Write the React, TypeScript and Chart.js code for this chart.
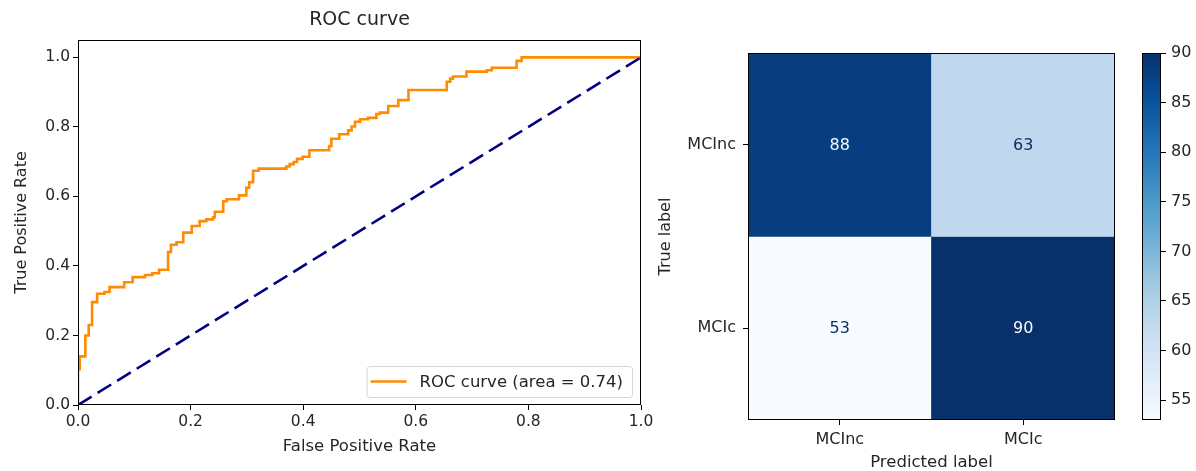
import React, { useEffect, useRef } from 'react';
import { Chart, registerables } from 'chart.js';

Chart.register(...registerables);

// ---------- ROC data (step points: at fpr[i] the curve jumps to tpr[i]) ----------
const rocFpr = [
  0, 0, 0.003, 0.013, 0.019, 0.025, 0.034, 0.047, 0.056, 0.082, 0.097, 0.119, 0.132, 0.144,
  0.160, 0.165, 0.175, 0.187, 0.202, 0.216, 0.228, 0.240, 0.243, 0.258, 0.264, 0.286, 0.299,
  0.304, 0.311, 0.321, 0.370, 0.376, 0.383, 0.389, 0.399, 0.411, 0.446, 0.450, 0.464, 0.480,
  0.486, 0.492, 0.501, 0.515, 0.530, 0.536, 0.551, 0.569, 0.587, 0.655, 0.661, 0.666, 0.690,
  0.726, 0.735, 0.779, 0.788, 1.0,
];
const rocTpr = [
  0, 0.103, 0.14, 0.20, 0.23, 0.296, 0.320, 0.325, 0.339, 0.353, 0.368, 0.374, 0.379, 0.389,
  0.440, 0.461, 0.468, 0.496, 0.515, 0.529, 0.534, 0.540, 0.556, 0.586, 0.592, 0.603, 0.625,
  0.641, 0.674, 0.680, 0.686, 0.693, 0.699, 0.708, 0.714, 0.733, 0.745, 0.766, 0.779, 0.790,
  0.801, 0.815, 0.822, 0.826, 0.837, 0.841, 0.860, 0.877, 0.906, 0.930, 0.939, 0.945, 0.959,
  0.963, 0.970, 0.990, 1.0, 1.0,
];
const chanceX = [0, 1];
const chanceY = [0, 1];
const rocTicks = [0, 0.2, 0.4, 0.6, 0.8, 1.0];
const rocTitle = 'ROC curve';
const rocLegendLabel = 'ROC curve (area = 0.74)';
const rocXLabel = 'False Positive Rate';
const rocYLabel = 'True Positive Rate';

// ---------- Confusion matrix data ----------
const predictedLabels = ['MCInc', 'MCIc'];
const trueLabels = ['MCInc', 'MCIc'];
const rowMCInc = [88, 63];
const rowMCIc = [53, 90];
const cmRows = [rowMCInc, rowMCIc];
const colorbarTicks = [55, 60, 65, 70, 75, 80, 85, 90];
const cmXLabel = 'Predicted label';
const cmYLabel = 'True label';

const allCells = cmRows.flat();
const cmMin = Math.min(...allCells);
const cmMax = Math.max(...allCells);

// ---------- styles ----------
const FONT = '"DejaVu Sans", sans-serif';
const TEXT = '#262626';
const BLUES = ['#f7fbff', '#deebf7', '#c6dbef', '#9ecae1', '#6baed6', '#4292c6', '#2171b5', '#08519c', '#08306b'];

Chart.defaults.font.family = FONT;
Chart.defaults.color = TEXT;

function hexToRgb(h: string) {
  const n = parseInt(h.slice(1), 16);
  return [(n >> 16) & 255, (n >> 8) & 255, n & 255];
}
function blues(t: number) {
  const tt = Math.max(0, Math.min(1, t)) * (BLUES.length - 1);
  const i = Math.min(BLUES.length - 2, Math.floor(tt));
  const f = tt - i;
  const a = hexToRgb(BLUES[i]);
  const b = hexToRgb(BLUES[i + 1]);
  const c = a.map((v, k) => Math.round(v + (b[k] - v) * f));
  return `rgb(${c[0]},${c[1]},${c[2]})`;
}

const framePlugin = {
  id: 'frame',
  afterDraw(chart: any) {
    const { ctx, chartArea } = chart;
    const l = Math.round(chartArea.left) + 0.5;
    const t = Math.round(chartArea.top) + 0.5;
    const r = Math.round(chartArea.right) - 0.5;
    const b = Math.round(chartArea.bottom) - 0.5;
    ctx.save();
    ctx.strokeStyle = '#000';
    ctx.lineWidth = 1;
    ctx.strokeRect(l, t, r - l, b - t);
    ctx.restore();
  },
};

// axes title centred over the plot area (like matplotlib's ax.set_title)
const axesTitlePlugin = {
  id: 'axesTitle',
  afterDraw(chart: any) {
    const { ctx, chartArea } = chart;
    ctx.save();
    ctx.font = `19px ${FONT}`;
    ctx.fillStyle = TEXT;
    ctx.textAlign = 'center';
    ctx.textBaseline = 'middle';
    ctx.fillText(rocTitle, (chartArea.left + chartArea.right) / 2, chartArea.top - 20);
    ctx.restore();
  },
};

const rocLegendPlugin = {
  id: 'rocLegend',
  afterDraw(chart: any) {
    const ds = chart.data.datasets[1];
    const { ctx, chartArea } = chart;
    ctx.save();
    ctx.font = `16.5px ${FONT}`;
    const tw = ctx.measureText(ds.label).width;
    const h = 31;
    const w = 53 + tw + 9;
    const right = chartArea.right - 9;
    const bottom = chartArea.bottom - 8;
    const left = right - w;
    const top = bottom - h;
    ctx.beginPath();
    ctx.roundRect(left + 0.5, top + 0.5, w, h, 3);
    ctx.fillStyle = 'rgba(255,255,255,0.85)';
    ctx.fill();
    ctx.strokeStyle = '#d5d5d5';
    ctx.lineWidth = 1;
    ctx.stroke();
    ctx.beginPath();
    ctx.moveTo(left + 4, top + h / 2);
    ctx.lineTo(left + 40, top + h / 2);
    ctx.strokeStyle = ds.borderColor;
    ctx.lineWidth = ds.borderWidth;
    ctx.stroke();
    ctx.fillStyle = TEXT;
    ctx.textAlign = 'left';
    ctx.textBaseline = 'middle';
    ctx.fillText(ds.label, left + 53, top + h / 2 + 1);
    ctx.restore();
  },
};

const cellTextPlugin = {
  id: 'cellText',
  afterDatasetsDraw(chart: any) {
    const { ctx } = chart;
    const mid = (cmMin + cmMax) / 2;
    ctx.save();
    ctx.font = `16px ${FONT}`;
    ctx.textAlign = 'center';
    ctx.textBaseline = 'middle';
    chart.data.datasets.forEach((_: any, di: number) => {
      const meta = chart.getDatasetMeta(di);
      meta.data.forEach((el: any, i: number) => {
        const v = cmRows[di][i];
        const p = el.getProps(['x', 'y', 'base'], true);
        ctx.fillStyle = v > mid ? BLUES[0] : BLUES[8];
        ctx.fillText(String(v), p.x, (p.y + p.base) / 2 + 1);
      });
    });
    ctx.restore();
  },
};

function rocConfig(): any {
  return {
    type: 'line',
    data: {
      datasets: [
        {
          label: '',
          data: chanceX.map((x, i) => ({ x, y: chanceY[i] })),
          borderColor: '#000080',
          borderWidth: 2.6,
          borderDash: [16, 7],
          pointRadius: 0,
          fill: false,
          order: 0,
        },
        {
          label: rocLegendLabel,
          data: rocFpr.map((x, i) => ({ x, y: rocTpr[i] })),
          borderColor: '#ff8c00',
          borderWidth: 2.6,
          stepped: 'before',
          pointRadius: 0,
          fill: false,
          order: 1,
        },
      ],
    },
    options: {
      responsive: false,
      animation: false,
      layout: { padding: { left: 0, right: 19, top: 40, bottom: 0 } },
      plugins: {
        legend: { display: false },
        tooltip: { enabled: false },
        title: { display: false },
      },
      scales: {
        x: {
          type: 'linear',
          min: 0,
          max: 1,
          afterBuildTicks: (s: any) => { s.ticks = rocTicks.map((v) => ({ value: v })); },
          ticks: { callback: (v: any) => Number(v).toFixed(1), font: { size: 15.5 }, padding: 3, maxRotation: 0 },
          grid: { drawOnChartArea: false, tickLength: 5, color: '#000' },
          border: { display: false },
          title: { display: true, text: rocXLabel, font: { size: 16.5 }, padding: { top: 0, bottom: 14 } },
          afterFit: (s: any) => { s.height = 66; },
        },
        y: {
          type: 'linear',
          min: 0,
          max: 1.05,
          afterBuildTicks: (s: any) => { s.ticks = rocTicks.map((v) => ({ value: v })); },
          ticks: { callback: (v: any) => Number(v).toFixed(1), font: { size: 15.5 }, padding: 3 },
          grid: { drawOnChartArea: false, tickLength: 5, color: '#000' },
          border: { display: false },
          title: { display: true, text: rocYLabel, font: { size: 16 }, padding: { top: 12, bottom: 0 } },
          afterFit: (s: any) => { s.width = 78; },
        },
      },
    },
    plugins: [framePlugin, axesTitlePlugin, rocLegendPlugin],
  };
}

function cmConfig(): any {
  return {
    type: 'bar',
    data: {
      labels: predictedLabels,
      datasets: trueLabels.map((lab, r) => ({
        label: lab,
        data: cmRows[r].map(() => [r, r + 1]),
        backgroundColor: cmRows[r].map((v) => blues((v - cmMin) / (cmMax - cmMin))),
        borderWidth: 0,
        barPercentage: 1,
        categoryPercentage: 1,
        grouped: false,
      })),
    },
    options: {
      responsive: false,
      animation: false,
      layout: { padding: { left: 0, right: 15, top: 53, bottom: 0 } },
      plugins: { legend: { display: false }, tooltip: { enabled: false } },
      scales: {
        x: {
          type: 'category',
          offset: true,
          ticks: { font: { size: 16 }, padding: 5, maxRotation: 0 },
          grid: { offset: false, drawOnChartArea: false, tickLength: 5, color: '#000' },
          border: { display: false },
          title: { display: true, text: cmXLabel, font: { size: 16.5, lineHeight: 1 }, padding: { top: 0, bottom: 0 } },
          afterFit: (s: any) => { s.height = 51; },
        },
        y: {
          type: 'linear',
          min: 0,
          max: trueLabels.length,
          reverse: true,
          afterBuildTicks: (s: any) => { s.ticks = trueLabels.map((_, i) => ({ value: i + 0.5 })); },
          ticks: { callback: (v: any) => trueLabels[Math.floor(v)], font: { size: 16 }, padding: 7 },
          grid: { drawOnChartArea: false, tickLength: 5, color: '#000' },
          border: { display: false },
          title: { display: true, text: cmYLabel, font: { size: 16 }, padding: { top: 6, bottom: 0 } },
          afterFit: (s: any) => { s.width = 98; },
        },
      },
    },
    plugins: [cellTextPlugin, framePlugin],
  };
}

function colorbarConfig(): any {
  return {
    type: 'bar',
    data: {
      labels: [''],
      datasets: [
        {
          data: [[cmMin, cmMax]],
          backgroundColor: (c: any) => {
            const chart = c.chart;
            if (!chart.chartArea) return BLUES[4];
            const y = chart.scales.y;
            const g = chart.ctx.createLinearGradient(0, y.getPixelForValue(cmMin), 0, y.getPixelForValue(cmMax));
            BLUES.forEach((col, i) => g.addColorStop(i / (BLUES.length - 1), col));
            return g;
          },
          borderWidth: 0,
          barPercentage: 1,
          categoryPercentage: 1,
        },
      ],
    },
    options: {
      responsive: false,
      animation: false,
      layout: { padding: { left: 17, right: 0, top: 53, bottom: 51 } },
      plugins: { legend: { display: false }, tooltip: { enabled: false } },
      scales: {
        x: { display: false },
        y: {
          type: 'linear',
          position: 'right',
          min: cmMin,
          max: cmMax,
          afterBuildTicks: (s: any) => { s.ticks = colorbarTicks.map((v) => ({ value: v })); },
          ticks: { font: { size: 16 }, padding: 5 },
          grid: { drawOnChartArea: false, tickLength: 5, color: '#000' },
          border: { display: false },
          afterFit: (s: any) => { s.width = 35; },
        },
      },
    },
    plugins: [framePlugin],
  };
}

export default function App() {
  const rocRef = useRef<HTMLCanvasElement>(null);
  const cmRef = useRef<HTMLCanvasElement>(null);
  const cbRef = useRef<HTMLCanvasElement>(null);

  useEffect(() => {
    const charts = [
      new Chart(rocRef.current as HTMLCanvasElement, rocConfig()),
      new Chart(cmRef.current as HTMLCanvasElement, cmConfig()),
      new Chart(cbRef.current as HTMLCanvasElement, colorbarConfig()),
    ];
    return () => charts.forEach((c) => c.destroy());
  }, []);

  return (
    <div style={{ position: 'fixed', left: 0, top: 0, width: 1196, height: 471, background: '#fff', overflow: 'hidden' }}>
      <canvas ref={rocRef} width={660} height={471} style={{ position: 'absolute', left: 0, top: 0 }} />
      <canvas ref={cmRef} width={480} height={471} style={{ position: 'absolute', left: 650, top: 0 }} />
      <canvas ref={cbRef} width={71} height={471} style={{ position: 'absolute', left: 1125, top: 0 }} />
    </div>
  );
}
